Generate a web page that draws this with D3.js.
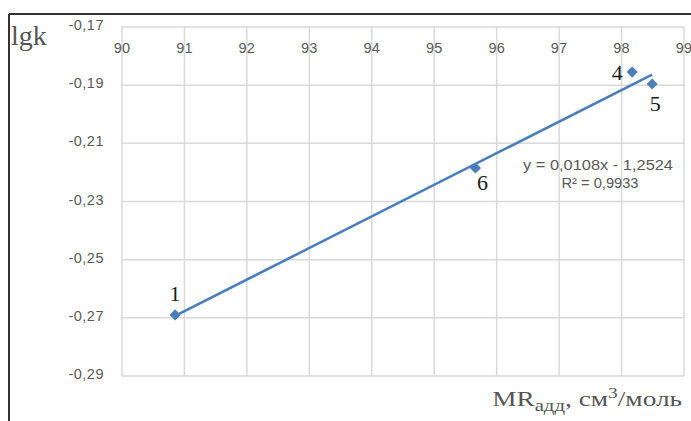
<!DOCTYPE html>
<html><head><meta charset="utf-8">
<script src="https://cdn.jsdelivr.net/npm/d3@7"></script>
<style>body{margin:0;background:#fff}svg{display:block}</style>
</head><body>
<script>
const xVals = [90.85, 95.66, 98.17, 98.49];
const yVals = [-0.269, -0.2185, -0.1855, -0.1896];
const pointLabels = ["1", "6", "4", "5"];
const xTicks = [90, 91, 92, 93, 94, 95, 96, 97, 98, 99];
const yTicks = [-0.17, -0.19, -0.21, -0.23, -0.25, -0.27, -0.29];
const eqText = "y = 0,0108x - 1,2524";
const r2Text = "R² = 0,9933";

const W = 691, H = 421;
const svg = d3.select("body").append("svg").attr("width", W).attr("height", H);
const x = d3.scaleLinear().domain([90, 99]).range([122, 684]);
const y = d3.scaleLinear().domain([-0.17, -0.29]).range([27, 376]);
const fmt = v => d3.format(".2f")(v).replace(".", ",").replace("−", "-");
const sans = "Liberation Sans, Arial, sans-serif";
const serif = "Liberation Serif, Times New Roman, serif";

// frame
svg.append("line").attr("x1", 9).attr("x2", W).attr("y1", 14).attr("y2", 14).attr("stroke", "#333").attr("stroke-width", 2);
svg.append("line").attr("x1", 9).attr("x2", 9).attr("y1", 14).attr("y2", H).attr("stroke", "#333").attr("stroke-width", 2);

// grid
const g = svg.append("g");
g.selectAll(".vg").data(xTicks).join("line")
  .attr("x1", d => x(d)).attr("x2", d => x(d)).attr("y1", y(-0.17)).attr("y2", y(-0.29))
  .attr("stroke", "#d9d9d9").attr("stroke-width", 1.5);
g.selectAll(".hg").data(yTicks).join("line")
  .attr("x1", x(90)).attr("x2", x(99)).attr("y1", d => y(d)).attr("y2", d => y(d))
  .attr("stroke", "#d9d9d9").attr("stroke-width", 1.5);

// tick labels
svg.selectAll(".xt").data(xTicks).join("text")
  .attr("x", d => x(d)).attr("y", 53).attr("text-anchor", "middle")
  .attr("font-family", sans).attr("font-size", 14.5).attr("fill", "#595959")
  .attr("letter-spacing", 0.2)
  .text(d => d);
svg.selectAll(".yt").data(yTicks).join("text")
  .attr("x", 104).attr("y", d => y(d) + 3).attr("text-anchor", "end")
  .attr("font-family", sans).attr("font-size", 14.5).attr("fill", "#595959")
  .attr("letter-spacing", 0.5)
  .text(d => fmt(d));

// trendline via least squares
const n = xVals.length;
const mx = d3.mean(xVals), my = d3.mean(yVals);
let sxy = 0, sxx = 0;
for (let i = 0; i < n; i++) { sxy += (xVals[i]-mx)*(yVals[i]-my); sxx += (xVals[i]-mx)**2; }
const slope = sxy / sxx, icpt = my - slope * mx;
const x0 = d3.min(xVals), x1 = d3.max(xVals);
svg.append("line").attr("x1", x(x0)).attr("y1", y(slope*x0+icpt)).attr("x2", x(x1)).attr("y2", y(slope*x1+icpt))
  .attr("stroke", "#4a7ebb").attr("stroke-width", 2.5);

// markers (rotated squares)
const sym = d3.symbol().type(d3.symbolSquare).size(62);
svg.selectAll(".pt").data(xVals).join("path")
  .attr("d", sym).attr("transform", (d, i) => `translate(${x(d)},${y(yVals[i])}) rotate(45)`)
  .attr("fill", "#4a7ebb");

// point labels
const lblOff = [[0, -14], [7, 22], [-15, 8], [3, 27]];
svg.selectAll(".pl").data(pointLabels).join("text")
  .attr("x", (d, i) => x(xVals[i]) + lblOff[i][0]).attr("y", (d, i) => y(yVals[i]) + lblOff[i][1])
  .attr("text-anchor", "middle")
  .attr("font-family", serif).attr("font-size", 22).attr("fill", "#1a1a1a")
  .text(d => d);

// equation
svg.append("text").attr("x", 598).attr("y", 170).attr("text-anchor", "middle")
  .attr("font-family", sans).attr("font-size", 14).attr("fill", "#595959")
  .attr("textLength", 150).attr("lengthAdjust", "spacingAndGlyphs").text(eqText);
svg.append("text").attr("x", 600).attr("y", 188).attr("text-anchor", "middle")
  .attr("font-family", sans).attr("font-size", 14).attr("fill", "#595959")
  .attr("textLength", 77).attr("lengthAdjust", "spacingAndGlyphs").text(r2Text);

// axis titles
svg.append("text").attr("x", 11).attr("y", 45)
  .attr("font-family", serif).attr("font-size", 28).attr("fill", "#555").text("lgk");
const tg = svg.append("g").attr("transform", "translate(682,406) scale(1.3,1)");
const t = tg.append("text").attr("x", 0).attr("y", 0).attr("text-anchor", "end")
  .attr("font-family", serif).attr("font-size", 21).attr("fill", "#555");
t.append("tspan").text("MR");
t.append("tspan").attr("font-size", 16).attr("dy", 5).text("адд");
t.append("tspan").attr("dy", -5).text(", см");
t.append("tspan").attr("font-size", 15).attr("dy", -8).text("3");
t.append("tspan").attr("dy", 8).text("/моль");
</script>
</body></html>
